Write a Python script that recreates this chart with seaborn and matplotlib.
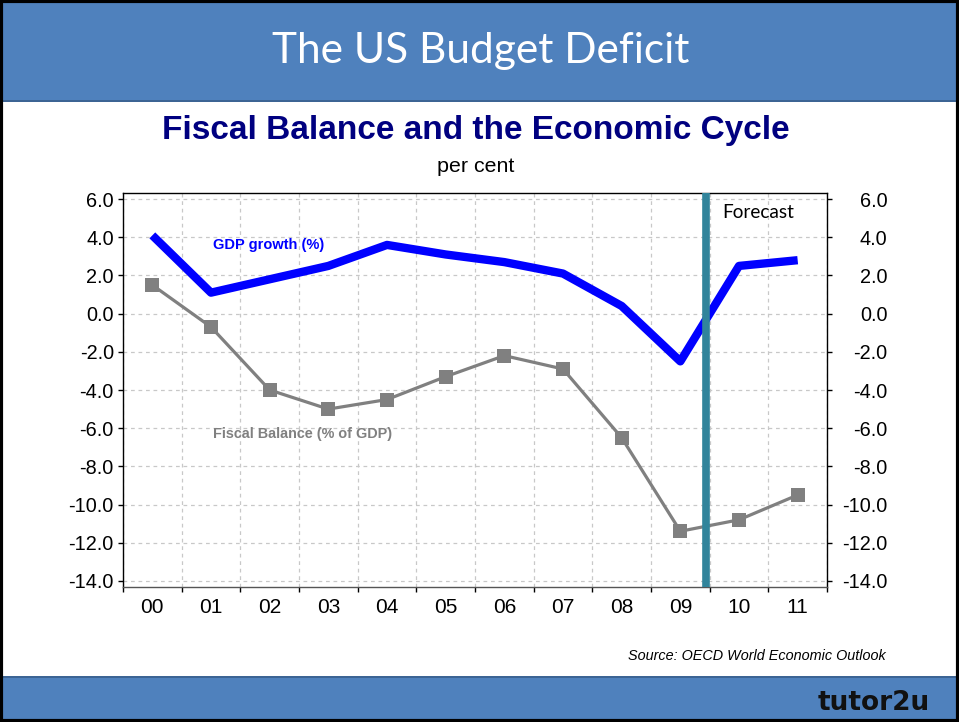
import numpy as np
import pandas as pd
import matplotlib
matplotlib.use("Agg")
import matplotlib.pyplot as plt
import seaborn as sns
from matplotlib.patches import Rectangle

years = ["00", "01", "02", "03", "04", "05", "06", "07", "08", "09", "10", "11"]
gdp_growth = [4.1, 1.1, 1.8, 2.5, 3.6, 3.1, 2.7, 2.1, 0.4, -2.5, 2.5, 2.8]
fiscal_balance = [1.5, -0.7, -4.0, -5.0, -4.5, -3.3, -2.2, -2.9, -6.5, -11.4, -10.8, -9.5]
y_ticks = [6.0, 4.0, 2.0, 0.0, -2.0, -4.0, -6.0, -8.0, -10.0, -12.0, -14.0]

sns.set_theme(style="white")
plt.rcParams['font.family'] = ['Liberation Sans', 'DejaVu Sans']

W, H = 959, 722
fig = plt.figure(figsize=(W / 100, H / 100), dpi=100)
fig.patch.set_facecolor("white")

# header & footer bands
band = "#4F81BD"
fig.add_artist(Rectangle((0, 1 - 100 / H), 1, 100 / H, transform=fig.transFigure,
                         facecolor=band, edgecolor="none", zorder=0))
fig.add_artist(Rectangle((0, 1 - 102 / H), 1, 2 / H, transform=fig.transFigure,
                         facecolor="#3C6494", edgecolor="none", zorder=0))
fig.add_artist(Rectangle((0, 0), 1, 45 / H, transform=fig.transFigure,
                         facecolor=band, edgecolor="none", zorder=0))
fig.add_artist(Rectangle((0, 44 / H), 1, 2 / H, transform=fig.transFigure,
                         facecolor="#3C6494", edgecolor="none", zorder=0))
# outer border
fig.add_artist(Rectangle((0.0015, 0.002), 0.997, 0.996, transform=fig.transFigure,
                         facecolor="none", edgecolor="black", linewidth=3, zorder=10))

fig.text(481 / W, 1 - 51 / H, "The US Budget Deficit", color="white", fontsize=30.5,
         ha="center", va="center", family=["Lato", "DejaVu Sans"])
fig.text(476 / W, 1 - 131 / H, "Fiscal Balance and the Economic Cycle", color="#000080",
         fontsize=24, fontweight="bold", ha="center", va="center")
fig.text(476 / W, 1 - 166 / H, "per cent", color="black", fontsize=15.4, ha="center", va="center")
fig.text(886 / W, 1 - 656 / H, "Source: OECD World Economic Outlook", color="black",
         fontsize=10.4, style="italic", ha="right", va="center")
fig.text(930 / W, 1 - 703 / H, "tutor2u", color="#111111", fontsize=19, fontweight="bold",
         ha="right", va="center", family=["DejaVu Sans"])

left, top, right, bottom = 123, 193, 827, 587
ax = fig.add_axes([left / W, 1 - bottom / H, (right - left) / W, (bottom - top) / H])

df = pd.DataFrame({"pos": np.arange(len(years)), "year": years,
                   "gdp": gdp_growth, "fiscal": fiscal_balance})

sns.lineplot(data=df, x="pos", y="gdp", ax=ax, color="#0000FF", linewidth=6,
             solid_capstyle="butt", zorder=4)
sns.lineplot(data=df, x="pos", y="fiscal", ax=ax, color="#808080", linewidth=2.3,
             marker="s", markersize=10, markeredgewidth=0, zorder=4)

ax.axvline(9.44, color="#31849B", linewidth=5.5, zorder=5)

ax.set_xlim(-0.5, 11.5)
ax.set_ylim(-14.32, 6.32)
ax.set_xticks(np.arange(-0.5, 12, 1))
ax.set_xticklabels([])
ax.set_xticks(np.arange(len(years)), minor=True)
ax.set_xticklabels(years, minor=True, fontsize=15)
ax.set_yticks(y_ticks)
ax.set_yticklabels([f"{v:.1f}" for v in y_ticks], fontsize=14.3)
ax.tick_params(axis="x", which="major", direction="out", length=3.6, width=1, color="black", bottom=True)
ax.tick_params(axis="x", which="minor", length=0, pad=8, labelcolor="black")
ax.tick_params(axis="y", direction="out", length=3.6, width=1, color="black", left=True, pad=3,
               labelcolor="black")
ax.set_xlabel("")
ax.set_ylabel("")
ax.grid(True, which="major", color="#C8C8C8", linestyle=(0, (3, 3)), linewidth=0.9)
ax.set_axisbelow(True)
for s in ax.spines.values():
    s.set_color("black")
    s.set_linewidth(1)
ax.spines["bottom"].set_color("#555555")

ax2 = ax.twinx()
ax2.set_ylim(ax.get_ylim())
ax2.set_yticks(y_ticks)
ax2.set_yticklabels([f"{v:.1f}" for v in y_ticks], fontsize=14.3, ha="right")
ax2.tick_params(axis="y", direction="out", length=3.6, width=1, color="black", right=True, pad=40,
                labelcolor="black")
ax2.grid(False)
for s in ax2.spines.values():
    s.set_visible(False)

ax.text(1.03, 3.6, "GDP growth (%)", color="#0000FF", fontsize=10.5, fontweight="bold",
        ha="left", va="center", zorder=6)
ax.text(1.03, -6.3, "Fiscal Balance (% of GDP)", color="#808080", fontsize=10.4, fontweight="bold",
        ha="left", va="center", zorder=6)
ax.text(10.33, 5.3, "Forecast", color="black", fontsize=13.7, ha="center", va="center",
        family=["Lato", "DejaVu Sans"], zorder=6)

fig.savefig("out.png", dpi=100)
